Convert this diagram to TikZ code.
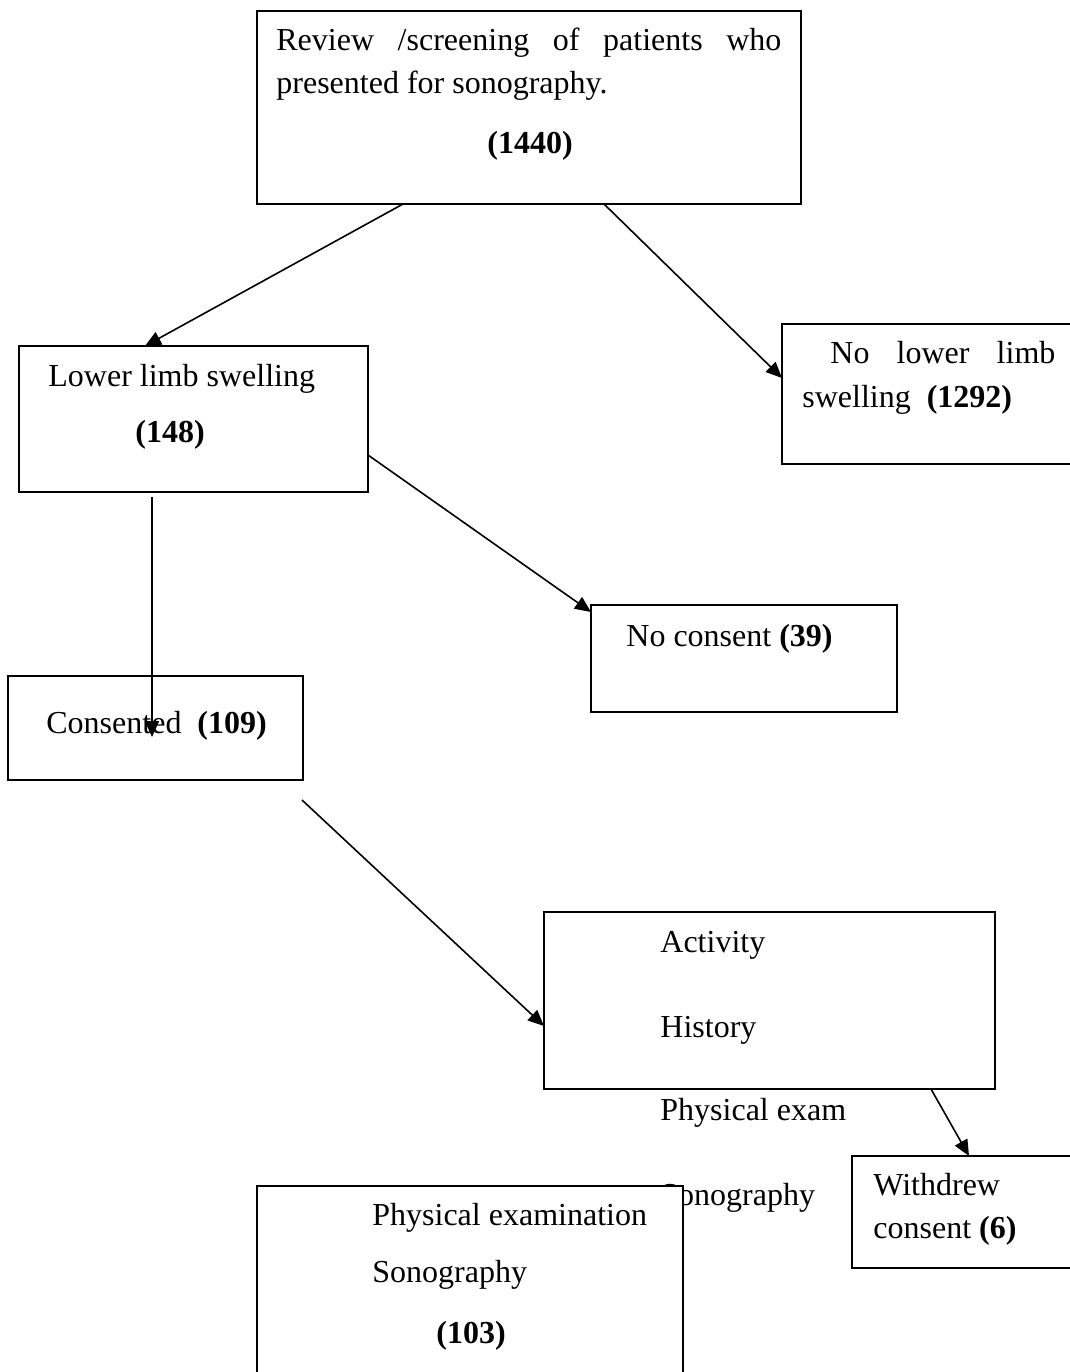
\documentclass[tikz,border=0pt]{standalone}
\usepackage{fontspec}
\setmainfont{Liberation Serif}
\usetikzlibrary{arrows.meta,calc}
\begin{document}
\begin{tikzpicture}[x=0.5pt,y=-0.5pt,
  boxn/.style={draw,line width=1pt,fill=white,anchor=north west,inner sep=0pt,outer sep=0pt},
  txt/.style={anchor=base west,inner sep=0pt,font=\fontsize{16pt}{21pt}\selectfont},
  conn/.style={line width=0.8pt,-{Triangle[length=8pt,width=7pt]}}]
\useasboundingbox (0,0) rectangle (1070,1372);
\clip (0,0) rectangle (1070,1372);
\fill[white] (0,0) rectangle (1070,1372);
% boxes
\node[boxn,minimum width=272pt,minimum height=96.5pt] (top) at (257,11) {};
\node[boxn,minimum width=174.5pt,minimum height=73pt] (lls) at (19,346) {};
\node[boxn,minimum width=150pt,minimum height=70pt] (nolimb) at (782,324) {};
\node[boxn,minimum width=153pt,minimum height=53.5pt] (nocons) at (591,605) {};
\node[boxn,minimum width=147.5pt,minimum height=52pt] (cons) at (8,676) {};
\node[boxn,minimum width=225.5pt,minimum height=88.5pt] (act) at (544,912) {};
\node[boxn,minimum width=115pt,minimum height=56pt] (wd) at (852,1156) {};
% texts
\node[txt] (t1a) at (276,50) {\hbox to 252.5pt{Review\hfill /screening\hfill of\hfill patients\hfill who}};
\node[txt] (t1b) at (276,93) {presented for sonography.};
\node[txt] (t1c) at (487,153) {\textbf{(1440)}};
\node[txt] (t2a) at (48,386) {Lower limb swelling};
\node[txt] (t2b) at (135,442) {\textbf{(148)}};
\node[txt] (t3a) at (830,363) {\hbox to 112.5pt{No\hfill lower\hfill limb}};
\node[txt] (t3b) at (802,407) {swelling\ \ \textbf{(1292)}};
\node[txt] (t4) at (626,646) {No consent \textbf{(39)}};
\node[txt] (t5) at (46,733) {Consented\ \ \textbf{(109)}};
\node[txt] (t6a) at (660,952) {Activity};
\node[txt] (t6b) at (660,1037) {History};
\node[txt] (t6c) at (660,1120) {Physical exam};
\node[txt] (t6d) at (660,1205) {Sonography};
\node[txt] (t7a) at (873,1195) {Withdrew};
\node[txt] (t7b) at (873,1238) {consent \textbf{(6)}};
% bottom box drawn over the Sonography label
\node[boxn,minimum width=213pt,minimum height=100pt] (phys) at (257,1186) {};
\node[txt] (t8a) at (372,1225) {Physical examination};
\node[txt] (t8b) at (372,1282) {Sonography};
\node[txt] (t8c) at (436,1343) {\textbf{(103)}};
% connectors
\draw[conn] ($(top.south west)+(146,0)$) -- ($(lls.north west)+(126,0)$);
\draw[conn] ($(top.south west)+(347,0)$) -- ($(nolimb.north west)+(0,54)$);
\draw[conn] ($(lls.south west)+(133,5)$) -- ($(cons.north west)+(144,61)$);
\draw[conn] ($(lls.north east)+(0,109)$) -- ($(nocons.north west)+(0,7)$);
\draw[conn] ($(cons.south east)+(-1,20)$) -- ($(act.north west)+(0,114)$);
\draw[conn] ($(act.south west)+(387,0)$) -- ($(wd.north west)+(117,0)$);
\end{tikzpicture}
\end{document}
